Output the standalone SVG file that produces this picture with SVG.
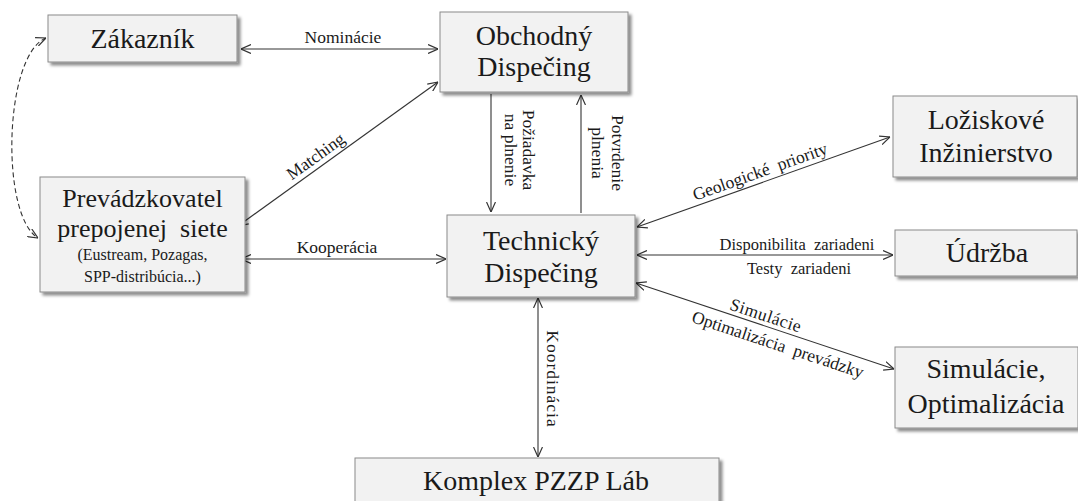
<svg xmlns="http://www.w3.org/2000/svg" width="1078" height="501" viewBox="0 0 1078 501">
<defs>
<filter id="sh" x="-10%" y="-10%" width="130%" height="140%">
<feDropShadow dx="3" dy="3" stdDeviation="1.8" flood-color="#000" flood-opacity="0.45"/>
</filter>
<marker id="ah" viewBox="0 0 10 10" refX="10" refY="5" markerWidth="10" markerHeight="10" markerUnits="userSpaceOnUse" orient="auto-start-reverse">
<path d="M0,0.5 L10,5 L0,9.5" fill="none" stroke="#333" stroke-width="1.2"/>
</marker>
</defs>
<style>
.box{fill:#f2f2f2;stroke:#8a8a8a;stroke-width:1;filter:url(#sh)}
.nt{font-family:"Liberation Serif","Times New Roman",serif;font-size:28px;fill:#1a1a1a;text-anchor:middle}
.pv{font-size:26px}
.st{font-family:"Liberation Serif","Times New Roman",serif;font-size:16px;fill:#1a1a1a;text-anchor:middle}
.el{font-family:"Liberation Serif","Times New Roman",serif;font-size:17.5px;fill:#1a1a1a;text-anchor:middle}
.ln{fill:none;stroke:#333;stroke-width:1.1}
</style>
<rect width="1078" height="501" fill="#fff"/>

<g id="connectors">
<line class="ln" x1="241" y1="49" x2="438" y2="49" marker-start="url(#ah)" marker-end="url(#ah)"/>
<line class="ln" x1="238" y1="226" x2="438" y2="82" marker-start="url(#ah)" marker-end="url(#ah)"/>
<line class="ln" x1="241" y1="259" x2="446" y2="259" marker-start="url(#ah)" marker-end="url(#ah)"/>
<line class="ln" x1="491" y1="94" x2="491" y2="212" marker-end="url(#ah)"/>
<line class="ln" x1="581" y1="213" x2="581" y2="95" marker-end="url(#ah)"/>
<line class="ln" x1="637" y1="227" x2="890" y2="137" marker-start="url(#ah)" marker-end="url(#ah)"/>
<line class="ln" x1="637" y1="255" x2="893" y2="255" marker-start="url(#ah)" marker-end="url(#ah)"/>
<line class="ln" x1="636" y1="283" x2="894" y2="369" marker-start="url(#ah)" marker-end="url(#ah)"/>
<line class="ln" x1="538" y1="298" x2="538" y2="457" marker-start="url(#ah)" marker-end="url(#ah)"/>
<path class="ln" d="M46,38 C4,55 0,215 38,238" stroke-dasharray="5,3" marker-start="url(#ah)" marker-end="url(#ah)"/>

<text class="el" x="343" y="43">Nominácie</text>
<text class="el" transform="translate(319,161) rotate(-35.8)">Matching</text>
<text class="el" x="337" y="253">Kooperácia</text>
<text class="el" transform="translate(523,150) rotate(90)"><tspan x="0" y="0">Požiadavka</tspan><tspan x="0" y="18">na plnenie</tspan></text>
<text class="el" transform="translate(612,153) rotate(90)"><tspan x="0" y="0">Potvrdenie</tspan><tspan x="0" y="20">plnenia</tspan></text>
<text class="el" transform="translate(762,177) rotate(-19.6)" xml:space="preserve">Geologické  priority</text>
<text class="el" x="797" y="250" style="font-size:16.5px" xml:space="preserve">Disponibilita  zariadeni</text>
<text class="el" x="799" y="274" style="font-size:16.5px" xml:space="preserve">Testy  zariadeni</text>
<text class="el" transform="translate(764,321) rotate(18.3)" letter-spacing="0.5">Simulácie</text>
<text class="el" transform="translate(776,350) rotate(18.3)" xml:space="preserve">Optimalizácia  prevádzky</text>
<text class="el" transform="translate(547,379) rotate(90)" letter-spacing="1">Koordinácia</text>
</g>

<g id="zakaznik">
<rect class="box" x="48" y="15" width="189" height="47"/>
<text class="nt" x="142.5" y="48">Zákazník</text>
</g>
<g id="obchodny">
<rect class="box" x="440" y="12" width="188" height="80"/>
<text class="nt" x="534" y="45">Obchodný</text>
<text class="nt" x="534" y="76">Dispečing</text>
</g>
<g id="prevadzkovatel">
<rect class="box" x="40" y="177" width="205" height="115"/>
<text class="nt pv" x="142.5" y="207">Prevádzkovatel</text>
<text class="nt pv" x="142.5" y="237" xml:space="preserve">prepojenej  siete</text>
<text class="st" x="142.5" y="260">(Eustream, Pozagas,</text>
<text class="st" x="142.5" y="282">SPP-distribúcia...)</text>
</g>
<g id="technicky">
<rect class="box" x="447" y="215" width="188" height="82"/>
<text class="nt" x="541" y="250">Technický</text>
<text class="nt" x="541" y="282">Dispečing</text>
</g>
<g id="loziskove">
<rect class="box" x="893" y="96" width="184" height="81"/>
<text class="nt" x="986" y="129">Ložiskové</text>
<text class="nt" x="986" y="162">Inžinierstvo</text>
</g>
<g id="udrzba">
<rect class="box" x="895" y="230" width="182" height="46"/>
<text class="nt" x="987" y="262">Údržba</text>
</g>
<g id="simulacie">
<rect class="box" x="895" y="347" width="183" height="81"/>
<text class="nt" x="986" y="378">Simulácie,</text>
<text class="nt" x="986" y="413">Optimalizácia</text>
</g>
<g id="komplex">
<rect class="box" x="355" y="458" width="364" height="50"/>
<text class="nt" x="536" y="490">Komplex PZZP Láb</text>
</g>
</svg>
